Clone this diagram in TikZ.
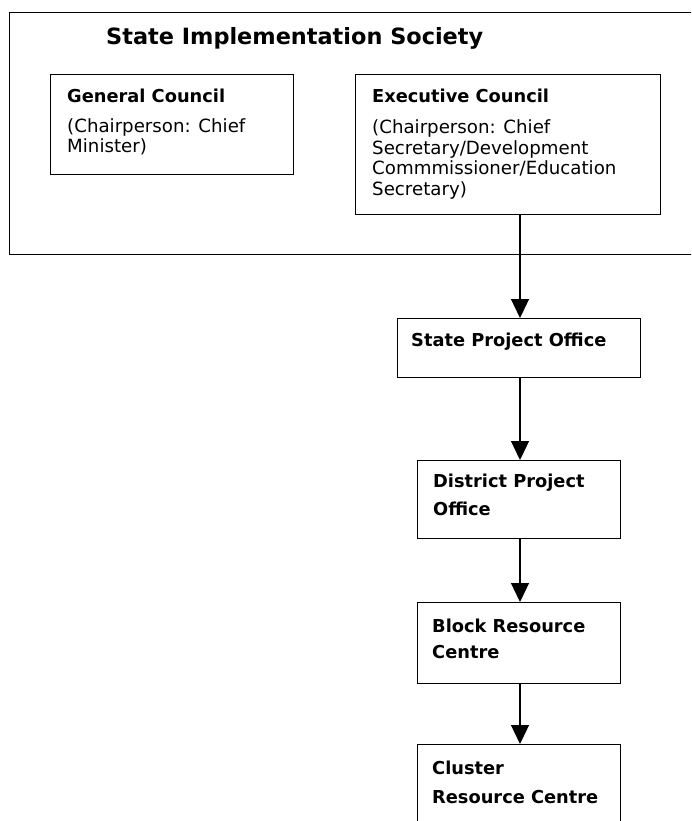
\documentclass[tikz,border=0pt]{standalone}
\usepackage{fontspec}
\setmainfont{DejaVu Sans}
\usetikzlibrary{arrows.meta}
\begin{document}
\begin{tikzpicture}[x=1pt,y=-1pt,
  frame/.style={draw, line width=1.3pt, inner sep=0pt, anchor=north west},
  titletext/.style={anchor=base west, inner sep=0pt, font=\fontsize{22.4}{26}\selectfont\bfseries},
  headtext/.style={anchor=base west, inner sep=0pt, font=\fontsize{17.8}{20}\selectfont\bfseries},
  bodytext/.style={anchor=base west, inner sep=0pt, font=\fontsize{18.2}{20}\selectfont},
  flow/.style={line width=1.3pt, -{Triangle[width=18pt,length=19pt]}}]
\clip (0,0) rectangle (691,821);
\fill[white] (0,0) rectangle (691,821);

% outer society frame (runs past the right edge)
\node[frame, minimum width=710pt, minimum height=242pt] (society) at (9,12) {};
\node[titletext] (societytitle) at (106,45) {State Implementation Society};

% councils
\node[frame, minimum width=243pt, minimum height=100pt] (general) at (50,74) {};
\node[headtext] (generalhead) at (67,103) {General Council};
\node[bodytext] (generalA) at (67,133) {(Chairperson: Chief};
\node[bodytext] (generalB) at (67,153) {Minister)};

\node[frame, minimum width=305pt, minimum height=140pt] (exec) at (355,74) {};
\node[headtext] (exechead) at (372,103) {Executive Council};
\node[bodytext] (execA) at (372,134) {(Chairperson: Chief};
\node[bodytext] (execB) at (372,154.5) {Secretary/Development};
\node[bodytext] (execC) at (372,175) {Commmissioner/Education};
\node[bodytext] (execD) at (372,195.5) {Secretary)};

% offices and centres
\node[frame, minimum width=243pt, minimum height=59pt] (spo) at (397,318) {};
\node[headtext] (spoA) at (411,346) {State Project Office};

\node[frame, minimum width=203pt, minimum height=78pt] (dpo) at (417,460) {};
\node[headtext] (dpoA) at (433,487) {District Project};
\node[headtext] (dpoB) at (433,515) {Office};

\node[frame, minimum width=203pt, minimum height=81pt] (brc) at (417,602) {};
\node[headtext] (brcA) at (432,632) {Block Resource};
\node[headtext] (brcB) at (432,658) {Centre};

\node[frame, minimum width=203pt, minimum height=100pt] (crc) at (417,744) {};
\node[headtext] (crcA) at (432,774) {Cluster};
\node[headtext] (crcB) at (432,803) {Resource Centre};

% chain of command
\coordinate (spine) at (520,0);
\draw[flow] (exec.south -| spine) -- (spo.north -| spine);
\draw[flow] (spo.south -| spine) -- (dpo.north -| spine);
\draw[flow] (dpo.south -| spine) -- (brc.north -| spine);
\draw[flow] (brc.south -| spine) -- (crc.north -| spine);
\end{tikzpicture}
\end{document}
